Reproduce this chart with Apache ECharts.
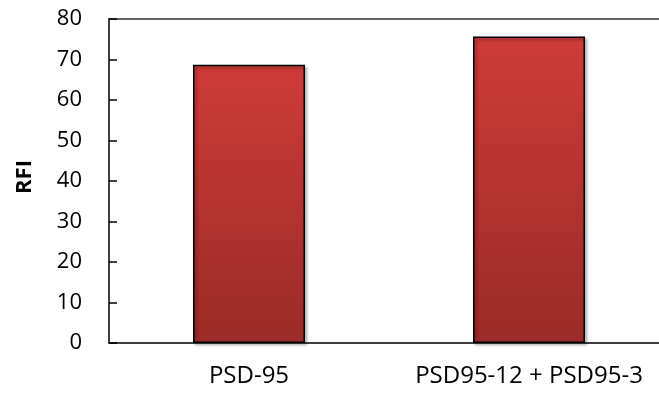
<!DOCTYPE html>
<html>
<head>
<meta charset="utf-8">
<script src="https://cdn.jsdelivr.net/npm/echarts@6/dist/echarts.min.js"></script>
<style>
  html, body { margin: 0; padding: 0; background: #fff; }
  #chart { width: 659px; height: 396px; }
</style>
</head>
<body>
<div id="chart"></div>
<script>
// Relative fluorescence intensity per construct
const categories = ['PSD-95', 'PSD95-12 + PSD95-3'];
const rfiValues = [68.7, 75.7];
const yTicks = { min: 0, max: 80, interval: 10 };

const FONT = '"Open Sans", "Liberation Sans", sans-serif';

const chart = echarts.init(document.getElementById('chart'), null, { renderer: 'canvas' });

chart.setOption({
  animation: false,
  backgroundColor: '#ffffff',
  // plot area runs a little past the right edge of the canvas
  grid: { left: 109, width: 560, top: 19, bottom: 53, containLabel: false, outerBoundsMode: 'none' },
  xAxis: [
    {
      type: 'category',
      data: categories,
      position: 'bottom',
      axisLine: { show: true, lineStyle: { color: '#000', width: 1.5 } },
      axisTick: { show: false },
      axisLabel: { color: '#000', fontFamily: FONT, fontSize: 24, margin: 21, interval: 0, hideOverlap: false }
    },
    {
      type: 'category',
      data: categories,
      position: 'top',
      axisLine: { show: true, lineStyle: { color: '#333', width: 1.5 } },
      axisTick: { show: false },
      axisLabel: { show: false }
    }
  ],
  yAxis: {
    type: 'value',
    min: yTicks.min,
    max: yTicks.max,
    interval: yTicks.interval,
    name: 'RFI',
    nameLocation: 'middle',
    nameGap: 73,
    nameRotate: 90,
    nameTextStyle: { color: '#000', fontFamily: FONT, fontSize: 22, fontWeight: 'bold', padding: [0, 0, 0, 8] },
    axisLine: { show: true, lineStyle: { color: '#000', width: 1.5 } },
    axisTick: { show: true, inside: true, length: 8, lineStyle: { color: '#000', width: 1.5 } },
    axisLabel: { color: '#000', fontFamily: FONT, fontSize: 22, margin: 27 },
    splitLine: { show: false }
  },
  series: [{
    type: 'bar',
    data: rfiValues,
    barWidth: 112,
    itemStyle: {
      color: new echarts.graphic.LinearGradient(0, 0, 0, 1, [
        { offset: 0, color: '#cf3b38' },
        { offset: 1, color: '#9a2b28' }
      ]),
      borderColor: '#000',
      borderWidth: 1.5,
      shadowColor: 'rgba(0,0,0,0.35)',
      shadowBlur: 3,
      shadowOffsetX: 2,
      shadowOffsetY: 2
    }
  }]
});
</script>
</body>
</html>
